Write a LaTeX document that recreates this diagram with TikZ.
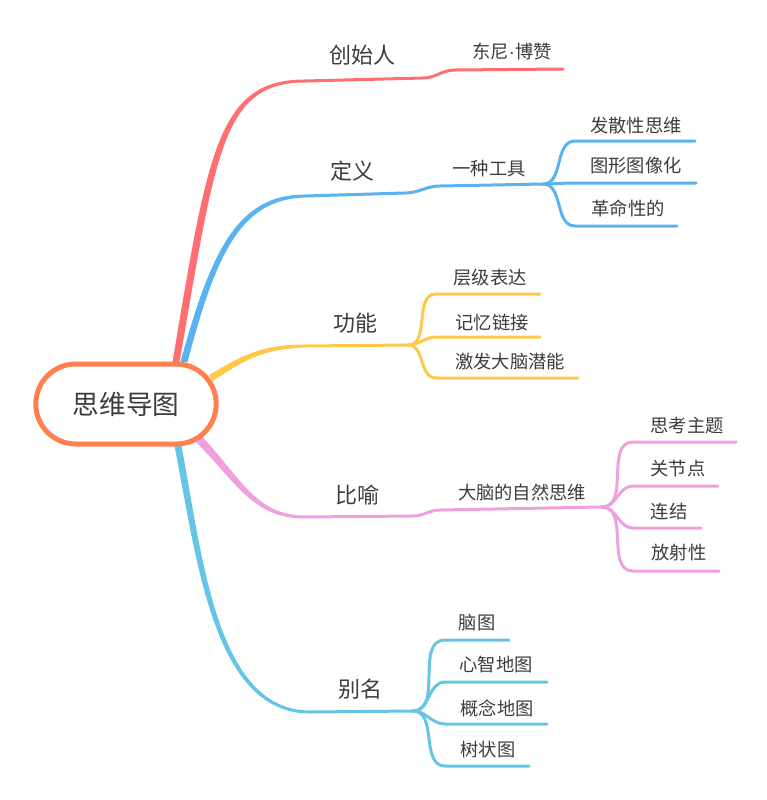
\documentclass[tikz,border=0pt]{standalone}
\usepackage{fontspec}
\newfontfamily\cjk{Noto Sans CJK SC}
\newfontfamily\latin{Liberation Sans}
\usetikzlibrary{shapes.misc,positioning,calc,backgrounds}
\definecolor{rootc}{RGB}{255,127,80}
\definecolor{redc}{RGB}{255,110,112}
\definecolor{bluec}{RGB}{90,178,240}
\definecolor{yellowc}{RGB}{255,200,72}
\definecolor{pinkc}{RGB}{240,160,222}
\definecolor{cyanc}{RGB}{100,198,228}
\definecolor{textc}{RGB}{60,60,60}

\begin{document}
\begin{tikzpicture}[x=0.75pt,y=-0.75pt,
  rootstyle/.style={rounded rectangle,draw=rootc,line width=3.75pt,fill=white,minimum width=142pt,minimum height=60pt,font=\cjk\fontsize{20}{24}\selectfont,text=textc},
  mainstyle/.style={font=\cjk\fontsize{16.5}{20}\selectfont,text=textc},
  substyle/.style={font=\cjk\fontsize{13.7}{16}\selectfont,text=textc},
  branch/.style={line width=2.25pt,line cap=round}]
\useasboundingbox (0,0) rectangle (767,800);

\node[rootstyle] (root) at (126,404) {思维导图};

\node[mainstyle] (founder) at (362,55) {创始人};
\node[substyle] (tony) at (512,52) {东尼{\latin ·}博赞};

\node[mainstyle] (define) at (352,171) {定义};
\node[substyle] (tool) at (489,169) {一种工具};
\node[substyle] (diverge) at (636,126) {发散性思维};
\node[substyle] (graphic) at (636,166) {图形图像化};
\node[substyle] (revol) at (628,208) {革命性的};

\node[mainstyle] (func) at (355,323) {功能};
\node[substyle] (layer) at (490,278) {层级表达};
\node[substyle] (memory) at (492,323) {记忆链接};
\node[substyle] (inspire) at (510,362) {激发大脑潜能};

\node[mainstyle] (meta) at (357,495) {比喻};
\node[substyle] (natural) at (522,493) {大脑的自然思维};
\node[substyle] (theme) at (687,426) {思考主题};
\node[substyle] (joint) at (678,469) {关节点};
\node[substyle] (link) at (669,512) {连结};
\node[substyle] (radial) at (679,553) {放射性};

\node[mainstyle] (alias) at (360,689) {别名};
\node[substyle] (brain) at (477,623) {脑图};
\node[substyle] (mind) at (496,665) {心智地图};
\node[substyle] (concept) at (497,708) {概念地图};
\node[substyle] (tree) at (488,750) {树状图};

% points of the branches
\coordinate (founderS) at (176,362);
\coordinate (founderM) at (305,81);
\coordinate (founderA) at (423,78);
\coordinate (founderB) at (455,70);
\coordinate (tonyE) at (563,69);

\coordinate (defineS) at (184,362);
\coordinate (defineM) at (305,196);
\coordinate (defineA) at (405,193);
\coordinate (defineB) at (440,186);
\coordinate (toolJ) at (543,184);
\coordinate (toolX) at (575,184);
\coordinate (divergeE) at (695,141);
\coordinate (graphicE) at (696,183);
\coordinate (revolE) at (677,226);

\coordinate (funcS) at (211,378);
\coordinate (funcM) at (305,346);
\coordinate (funcJ) at (408,345);
\coordinate (funcX) at (436,345);
\coordinate (layerE) at (540,294);
\coordinate (memoryE) at (540,337);
\coordinate (inspireE) at (578,378);

\coordinate (metaS) at (197,437);
\coordinate (metaM) at (305,517);
\coordinate (metaA) at (413,516);
\coordinate (metaB) at (440,510);
\coordinate (naturalJ) at (602,507);
\coordinate (naturalX) at (633,507);
\coordinate (themeE) at (736,442);
\coordinate (jointE) at (718,486);
\coordinate (linkE) at (701,528);
\coordinate (radialE) at (719,571);

\coordinate (aliasS) at (178,446);
\coordinate (aliasM) at (310,712);
\coordinate (aliasJ) at (413,711);
\coordinate (aliasX) at (445,711);
\coordinate (brainE) at (509,640);
\coordinate (mindE) at (547,682);
\coordinate (conceptE) at (547,724);
\coordinate (treeE) at (529,766);

\begin{scope}[on background layer]
% 创始人
\fill[redc] ($(founderS)+(-3.5,0)$) .. controls (208,150) and (218,79.5) .. ($(founderM)+(0,-1.5)$)
  -- ($(founderM)+(0,1.5)$) .. controls (222,82.5) and (216,152) .. ($(founderS)+(3.5,0)$) -- cycle;
\draw[branch,redc] (founderM) -- (founderA) to[out=0,in=180] (founderB) -- (tonyE);
% 定义
\fill[bluec] ($(defineS)+(-3.5,0)$) .. controls (211,250) and (238,194.5) .. ($(defineM)+(0,-1.5)$)
  -- ($(defineM)+(0,1.5)$) .. controls (242,199.5) and (217,250) .. ($(defineS)+(3.5,0)$) -- cycle;
\draw[branch,bluec] (defineM) -- (defineA) to[out=0,in=180] (defineB) -- (toolJ);
\foreach \n in {diverge,graphic,revol}
  \draw[branch,bluec] (toolJ) to[out=0,in=180] (toolX |- \n E) -- (\n E);
% 功能
\fill[yellowc] ($(funcS)+(-1.8,-3)$) .. controls (243,355) and (262,344.5) .. ($(funcM)+(0,-1.5)$)
  -- ($(funcM)+(0,1.5)$) .. controls (262,349.5) and (246,359) .. ($(funcS)+(1.8,3)$) -- cycle;
\draw[branch,yellowc] (funcM) -- (funcJ);
\foreach \n in {layer,memory,inspire}
  \draw[branch,yellowc] (funcJ) to[out=0,in=180] (funcX |- \n E) -- (\n E);
% 比喻
\fill[pinkc] ($(metaS)+(2.9,-2.8)$) .. controls (242,479) and (256,515.5) .. ($(metaM)+(0,-1.5)$)
  -- ($(metaM)+(0,1.5)$) .. controls (254,518.5) and (238,485) .. ($(metaS)+(-2.9,2.8)$) -- cycle;
\draw[branch,pinkc] (metaM) -- (metaA) to[out=0,in=180] (metaB) -- (naturalJ);
\foreach \n in {theme,joint,link,radial}
  \draw[branch,pinkc] (naturalJ) to[out=0,in=180] (naturalX |- \n E) -- (\n E);
% 别名
\fill[cyanc] ($(aliasS)+(3.5,0)$) .. controls (203,560) and (217,710.5) .. ($(aliasM)+(0,-1.5)$)
  -- ($(aliasM)+(0,1.5)$) .. controls (213,713.5) and (197,560) .. ($(aliasS)+(-3.5,0)$) -- cycle;
\draw[branch,cyanc] (aliasM) -- (aliasJ);
\foreach \n in {brain,mind,concept,tree}
  \draw[branch,cyanc] (aliasJ) to[out=0,in=180] (aliasX |- \n E) -- (\n E);
\end{scope}
\end{tikzpicture}
\end{document}
